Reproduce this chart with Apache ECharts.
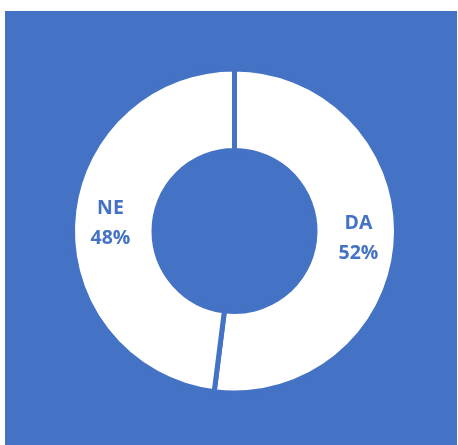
<!DOCTYPE html>
<html>
<head>
<meta charset="utf-8">
<script src="https://cdn.jsdelivr.net/npm/echarts@6/dist/echarts.min.js"></script>
<style>
  html, body { margin: 0; padding: 0; background: #fff; }
  #donut-chart { position: absolute; left: 5px; top: 11px; width: 452px; height: 434px; }
</style>
</head>
<body>
<div id="donut-chart"></div>
<script>
var donutChart = echarts.init(document.getElementById('donut-chart'));
var categories = ['DA', 'NE'];
var shares = [52, 48];

var option = {
    backgroundColor: '#4472C4',
    animation: false,
    series: [{
        type: 'pie',
        center: [229.5, 220],
        radius: [80.5, 162],
        startAngle: 90,
        clockwise: true,
        itemStyle: {
            color: '#ffffff',
            borderColor: '#4472C4',
            borderWidth: 5
        },
        label: {
            position: 'inside',
            formatter: function (p) { return p.name + '\n' + p.value + '%'; },
            color: '#4472C4',
            fontFamily: 'Open Sans',
            fontWeight: 'bold',
            fontSize: 19.5,
            lineHeight: 30
        },
        labelLine: { show: false },
        data: categories.map(function (c, i) {
            return { name: c, value: shares[i] };
        })
    }]
};
donutChart.setOption(option);
</script>
</body>
</html>
